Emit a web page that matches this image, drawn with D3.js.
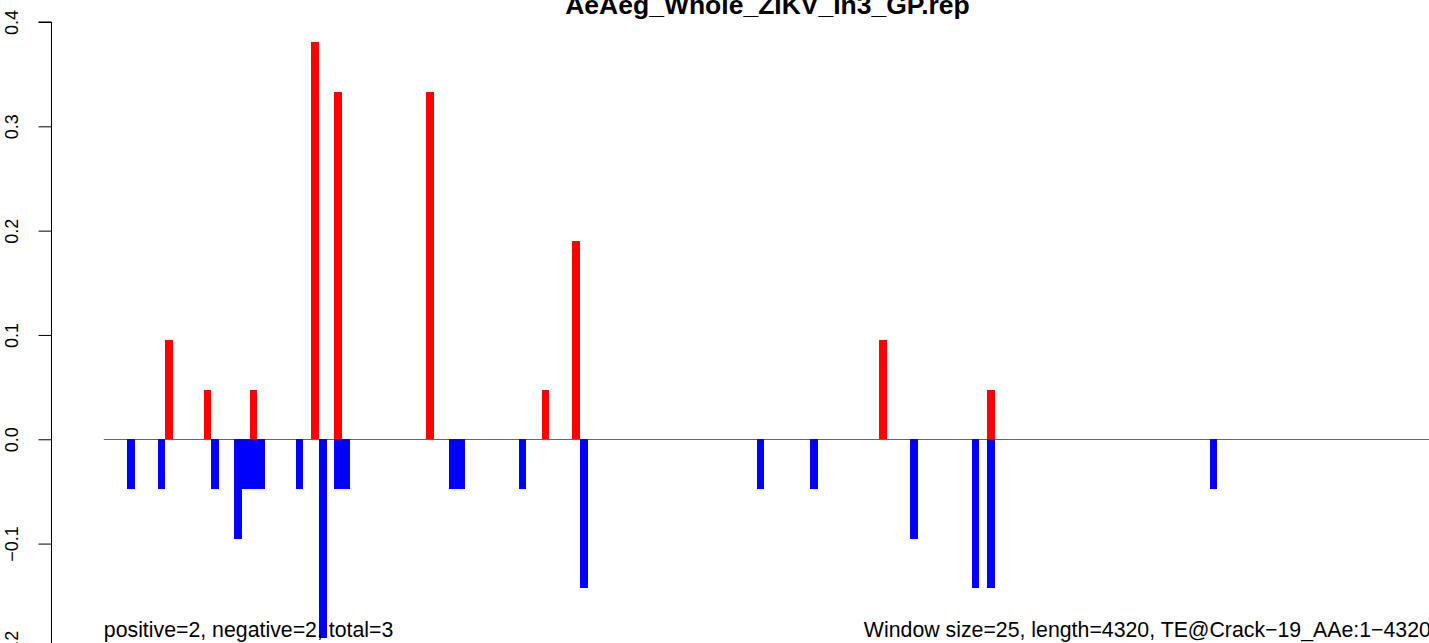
<!DOCTYPE html>
<html>
<head>
<meta charset="utf-8">
<script src="https://cdn.jsdelivr.net/npm/d3@7"></script>
<style>
html,body{margin:0;padding:0;background:#fff;overflow:hidden;}
svg{display:block;}
text{font-family:"Liberation Sans",Arial,Helvetica,sans-serif;}
</style>
</head>
<body>
<svg id="chart" width="1429" height="643"></svg>
<script>
// ---- data ----
const title = "AeAeg_Whole_ZIKV_In3_GP.rep";
const windowSize = 25;
const seqLength = 4320;
const posBins = [8, 13, 19, 27, 30, 42, 57, 61, 101, 115];
const posValues = [0.0952, 0.0476, 0.0476, 0.381, 0.3333, 0.3333, 0.0476, 0.1905, 0.0952, 0.0476];
const negBins = [3, 7, 14, 17, 18, 19, 20, 25, 28, 30, 31, 45, 46, 54, 62, 85, 92, 105, 113, 115, 144];
const negValues = [-0.0476, -0.0476, -0.0476, -0.0952, -0.0476, -0.0476, -0.0476, -0.0476, -0.1905, -0.0476, -0.0476, -0.0476, -0.0476, -0.0476, -0.1429, -0.0476, -0.0476, -0.0952, -0.1429, -0.1429, -0.0476];
const yTicks = [-0.2, -0.1, 0.0, 0.1, 0.2, 0.3, 0.4];
const leftNote = "positive=2, negative=2, total=3";
const rightNote = "Window size=25, length=4320, TE@Crack\u221219_AAe:1\u22124320";

// ---- scales ----
const svg = d3.select("#chart");
const x = d3.scaleLinear().domain([0, seqLength]).range([103.8, 1430.9]);
const y = d3.scaleLinear().domain([-0.2, 0.4]).range([647.9, 22]);
const axisX = 51;

// baseline
svg.append("line")
  .attr("x1", x(0)).attr("x2", x(seqLength))
  .attr("y1", Math.round(y(0)) + 0.5).attr("y2", Math.round(y(0)) + 0.5)
  .attr("stroke", "#666").attr("stroke-width", 1);

function drawBars(bins, vals, color) {
  svg.append("g").selectAll("rect")
    .data(bins.map((b, i) => ({b, v: vals[i]})))
    .join("rect")
    .attr("shape-rendering", "crispEdges")
    .attr("x", d => x(d.b * windowSize))
    .attr("width", d => x((d.b + 1) * windowSize) - x(d.b * windowSize))
    .attr("y", d => Math.min(y(0), y(d.v)))
    .attr("height", d => Math.abs(y(d.v) - y(0)))
    .attr("fill", color);
}
drawBars(negBins, negValues, "#0000FF");
drawBars(posBins, posValues, "#FF0000");

// y axis
const yAxis = d3.axisLeft(y).tickValues(yTicks).tickSize(13).tickPadding(0)
  .tickFormat(d3.format(".1f"));
const gy = svg.append("g").attr("transform", `translate(${axisX + 0.5},0)`).call(yAxis);
gy.select(".domain").attr("d", `M-13,${y(0.4)}H0V${y(-0.2)}`).attr("stroke", "#000");
gy.selectAll(".tick line").attr("stroke", "#000");
gy.selectAll(".tick text")
  .attr("x", null).attr("dy", null)
  .attr("transform", "translate(-34,0) rotate(-90)")
  .attr("text-anchor", "middle")
  .attr("font-size", 18)
  .attr("font-family", "Liberation Sans, Arial, sans-serif")
  .attr("fill", "#000");

// title
svg.append("text")
  .attr("x", 767.5).attr("y", 14)
  .attr("text-anchor", "middle")
  .attr("font-weight", "bold")
  .attr("font-size", 26.5)
  .text(title);

// notes
svg.append("text")
  .attr("x", x(0)).attr("y", 637)
  .attr("text-anchor", "start")
  .attr("font-size", 21.3)
  .text(leftNote);
svg.append("text")
  .attr("x", x(seqLength)).attr("y", 637)
  .attr("text-anchor", "end")
  .attr("font-size", 21.3)
  .text(rightNote);
</script>
</body>
</html>
